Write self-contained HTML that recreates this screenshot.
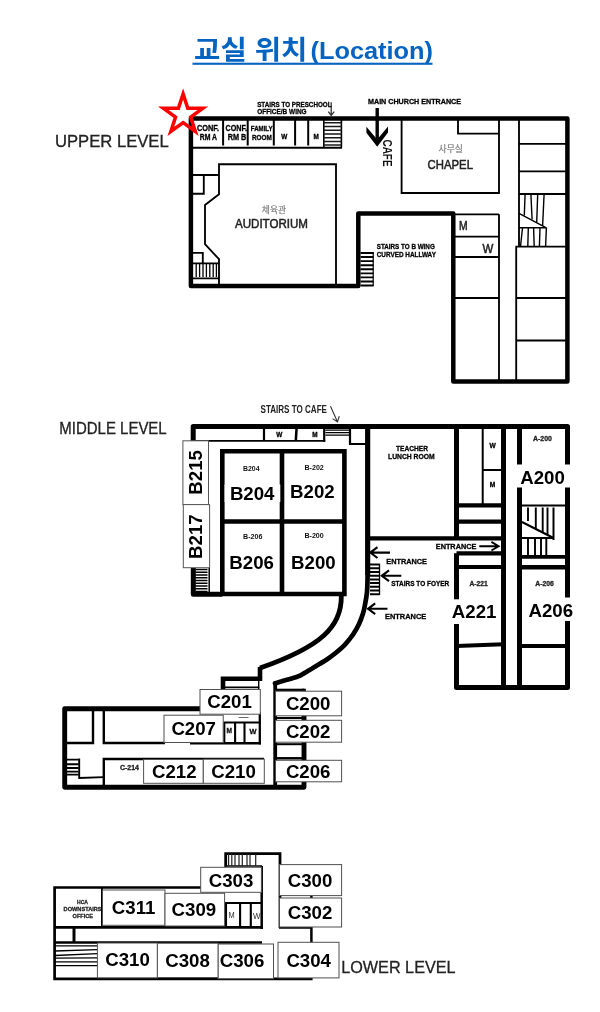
<!DOCTYPE html>
<html lang="ko"><head><meta charset="utf-8"><title>교실 위치(Location)</title>
<style>html,body{margin:0;padding:0;background:#fff}svg{display:block;will-change:transform}text{font-family:"Liberation Sans", "Noto Sans CJK KR", sans-serif;}</style></head><body>
<svg width="600" height="1012" viewBox="0 0 600 1012">
<rect width="600" height="1012" fill="#fff"/>
<text y="58.5" font-weight="bold" fill="#0563c1"><tspan x="194.1" font-size="26.67" textLength="113.2" lengthAdjust="spacingAndGlyphs">교실 위치</tspan><tspan x="310.5" font-size="24" textLength="122.5" lengthAdjust="spacingAndGlyphs">(Location)</tspan></text>
<rect x="192.50" y="62.70" width="240.00" height="2.10" fill="#0563c1" stroke="none" stroke-width="1"/>
<g id="upper">
<line x1="191.00" y1="147.80" x2="342.00" y2="147.80" stroke="#000" stroke-width="2" stroke-linecap="butt"/>
<line x1="223.10" y1="119.00" x2="223.10" y2="145.50" stroke="#000" stroke-width="2" stroke-linecap="butt"/>
<line x1="247.70" y1="119.00" x2="247.70" y2="145.50" stroke="#000" stroke-width="2" stroke-linecap="butt"/>
<line x1="273.80" y1="119.00" x2="273.80" y2="145.50" stroke="#000" stroke-width="2" stroke-linecap="butt"/>
<line x1="295.10" y1="119.00" x2="295.10" y2="145.50" stroke="#000" stroke-width="2" stroke-linecap="butt"/>
<line x1="308.20" y1="119.00" x2="308.20" y2="145.50" stroke="#000" stroke-width="2" stroke-linecap="butt"/>
<path d="M323.8,119V147.6M341.4,119V147.6" fill="none" stroke="#000" stroke-width="1.6" stroke-linejoin="miter" stroke-linecap="butt"/>
<path d="M323.70,122.80H341.50M323.70,126.52H341.50M323.70,130.24H341.50M323.70,133.96H341.50M323.70,137.68H341.50M323.70,141.40H341.50M323.70,145.12H341.50" fill="none" stroke="#1a1a1a" stroke-width="1.5" stroke-linejoin="miter" stroke-linecap="butt"/>
<path d="M219,285V259.2L205,244.2V205L219,194.2V164.2H336V285" fill="none" stroke="#000" stroke-width="1.85" stroke-linejoin="miter" stroke-linecap="butt"/>
<path d="M191,175H219M203.8,175V193.7H191" fill="none" stroke="#000" stroke-width="1.85" stroke-linejoin="miter" stroke-linecap="butt"/>
<path d="M191,252.8H202.8V263.3" fill="none" stroke="#000" stroke-width="1.85" stroke-linejoin="miter" stroke-linecap="butt"/>
<path d="M191,263.3H219M191,278.3H219" fill="none" stroke="#000" stroke-width="1.85" stroke-linejoin="miter" stroke-linecap="butt"/>
<path d="M196.20,263.30V277.00M199.60,263.30V277.00M203.00,263.30V277.00M206.40,263.30V277.00M209.80,263.30V277.00M213.20,263.30V277.00M216.40,263.30V277.00" fill="none" stroke="#000" stroke-width="1.3" stroke-linejoin="miter" stroke-linecap="butt"/>
<path d="M401.6,119V193H499V119" fill="none" stroke="#000" stroke-width="1.85" stroke-linejoin="miter" stroke-linecap="butt"/>
<path d="M458,119V133.6H499" fill="none" stroke="#000" stroke-width="1.85" stroke-linejoin="miter" stroke-linecap="butt"/>
<path d="M499,214.3V381" fill="none" stroke="#000" stroke-width="1.85" stroke-linejoin="miter" stroke-linecap="butt"/>
<line x1="453.00" y1="214.30" x2="499.00" y2="214.30" stroke="#000" stroke-width="1.85" stroke-linecap="butt"/>
<line x1="453.00" y1="236.60" x2="499.00" y2="236.60" stroke="#000" stroke-width="1.85" stroke-linecap="butt"/>
<line x1="453.00" y1="257.00" x2="499.00" y2="257.00" stroke="#000" stroke-width="1.85" stroke-linecap="butt"/>
<line x1="453.00" y1="298.00" x2="499.00" y2="298.00" stroke="#000" stroke-width="1.85" stroke-linecap="butt"/>
<path d="M519,119V246.5" fill="none" stroke="#000" stroke-width="1.85" stroke-linejoin="miter" stroke-linecap="butt"/>
<line x1="519.00" y1="143.80" x2="567.00" y2="143.80" stroke="#000" stroke-width="1.85" stroke-linecap="butt"/>
<line x1="519.00" y1="171.30" x2="567.00" y2="171.30" stroke="#000" stroke-width="1.85" stroke-linecap="butt"/>
<line x1="519.00" y1="194.00" x2="567.00" y2="194.00" stroke="#000" stroke-width="1.85" stroke-linecap="butt"/>
<path d="M516.2,246.6V381M515.4,246.6H567M516.2,298H567M516.2,340.5H567" fill="none" stroke="#000" stroke-width="1.85" stroke-linejoin="miter" stroke-linecap="butt"/>
<path d="M519,213.3L546.4,227.8H519" fill="none" stroke="#000" stroke-width="1.4" stroke-linejoin="miter" stroke-linecap="butt"/>
<path d="M544.1,194L542.6,226.1M546.4,227.8L545.6,246.5" fill="none" stroke="#000" stroke-width="1.4" stroke-linejoin="miter" stroke-linecap="butt"/>
<path d="M525.1,194L524.3,215.5M530.9,194L532.1,219.5M537.7,194L536.7,222.5" fill="none" stroke="#000" stroke-width="1.4" stroke-linejoin="miter" stroke-linecap="butt"/>
<path d="M522.5,228L520.5,246.5M528.3,228L527.8,246.5M533.6,228L534.2,246.5M540,228L539.4,246.5" fill="none" stroke="#000" stroke-width="1.4" stroke-linejoin="miter" stroke-linecap="butt"/>
<path d="M360.50,253.00H373.50M360.50,257.07H373.50M360.50,261.14H373.50M360.50,265.21H373.50M360.50,269.28H373.50M360.50,273.35H373.50M360.50,277.42H373.50M360.50,281.49H373.50M360.50,285.56H373.50" fill="none" stroke="#000" stroke-width="1.9" stroke-linejoin="miter" stroke-linecap="butt"/>
<line x1="373.20" y1="252.00" x2="373.20" y2="286.00" stroke="#000" stroke-width="1.2" stroke-linecap="butt"/>
<path d="M190.9,118.6H567.4V381.5H453.3V213.5H358.3V286H190.9Z" fill="none" stroke="#000" stroke-width="4.5" stroke-linejoin="round" stroke-linecap="butt"/>
<line x1="377.20" y1="108.00" x2="377.20" y2="141.00" stroke="#000" stroke-width="3.4" stroke-linecap="butt"/>
<polygon points="366.4,126.8 377.2,139.6 388,126.6 388,132.6 377.2,146.7 366.4,132.8" fill="#000"/>
<path d="M331.2,102.3V115.3M328.3,111.6L331.2,115.4L334.2,111.6" fill="none" stroke="#333" stroke-width="1.3" stroke-linejoin="miter" stroke-linecap="butt"/>
<text x="55.00" y="146.97" font-size="16.4" font-weight="normal" fill="#222" textLength="113.70" lengthAdjust="spacingAndGlyphs" stroke="#222" stroke-width="0.3">UPPER LEVEL</text>
<text x="257.20" y="106.66" font-size="7.7" font-weight="bold" fill="#000" textLength="74.30" lengthAdjust="spacingAndGlyphs" stroke="#000" stroke-width="0.3">STAIRS TO PRESCHOOL</text>
<text x="257.20" y="114.26" font-size="7.7" font-weight="bold" fill="#000" textLength="49.40" lengthAdjust="spacingAndGlyphs" stroke="#000" stroke-width="0.3">OFFICE/B WING</text>
<text x="368.00" y="104.26" font-size="7.7" font-weight="bold" fill="#000" textLength="93.00" lengthAdjust="spacingAndGlyphs" stroke="#000" stroke-width="0.3">MAIN CHURCH ENTRANCE</text>
<text x="197.00" y="131.07" font-size="8.3" font-weight="bold" fill="#000" textLength="22.00" lengthAdjust="spacingAndGlyphs" stroke="#000" stroke-width="0.3">CONF.</text>
<text x="199.70" y="140.47" font-size="8.3" font-weight="bold" fill="#000" textLength="17.30" lengthAdjust="spacingAndGlyphs" stroke="#000" stroke-width="0.3">RM A</text>
<text x="225.50" y="131.07" font-size="8.3" font-weight="bold" fill="#000" textLength="21.50" lengthAdjust="spacingAndGlyphs" stroke="#000" stroke-width="0.3">CONF.</text>
<text x="227.70" y="140.47" font-size="8.3" font-weight="bold" fill="#000" textLength="18.60" lengthAdjust="spacingAndGlyphs" stroke="#000" stroke-width="0.3">RM B</text>
<text x="250.80" y="131.31" font-size="7" font-weight="bold" fill="#000" textLength="21.80" lengthAdjust="spacingAndGlyphs" stroke="#000" stroke-width="0.3">FAMILY</text>
<text x="252.00" y="140.11" font-size="7" font-weight="bold" fill="#000" textLength="19.80" lengthAdjust="spacingAndGlyphs" stroke="#000" stroke-width="0.3">ROOM</text>
<text x="284.20" y="139.29" font-size="6.4" font-weight="bold" fill="#000" text-anchor="middle" stroke="#000" stroke-width="0.3">W</text>
<text x="316.20" y="139.29" font-size="6.4" font-weight="bold" fill="#000" text-anchor="middle" stroke="#000" stroke-width="0.3">M</text>
<text transform="translate(383,139.5) rotate(90)" x="0" y="0" font-size="13.7" font-weight="bold" textLength="27" lengthAdjust="spacingAndGlyphs" fill="#111">CAFE</text>
<text x="274" y="213.3" font-size="8.8" text-anchor="middle" fill="#808080" stroke="#808080" stroke-width="0.2">체육관</text>
<text x="235.00" y="228.40" font-size="12.3" font-weight="normal" fill="#222" textLength="73.00" lengthAdjust="spacingAndGlyphs" stroke="#222" stroke-width="0.5">AUDITORIUM</text>
<text x="450.7" y="152.2" font-size="8.8" text-anchor="middle" fill="#808080" stroke="#808080" stroke-width="0.2">사무실</text>
<text x="427.60" y="168.97" font-size="12.5" font-weight="normal" fill="#222" textLength="45.40" lengthAdjust="spacingAndGlyphs" stroke="#222" stroke-width="0.5">CHAPEL</text>
<text x="459.00" y="229.90" font-size="12" font-weight="normal" fill="#222" textLength="8.60" lengthAdjust="spacingAndGlyphs" stroke="#222" stroke-width="0.5">M</text>
<text x="482.50" y="252.50" font-size="12" font-weight="normal" fill="#222" textLength="10.80" lengthAdjust="spacingAndGlyphs" stroke="#222" stroke-width="0.5">W</text>
<text x="376.70" y="248.95" font-size="7.4" font-weight="bold" fill="#000" textLength="58.10" lengthAdjust="spacingAndGlyphs" stroke="#000" stroke-width="0.3">STAIRS TO B WING</text>
<text x="376.70" y="256.95" font-size="7.4" font-weight="bold" fill="#000" textLength="59.20" lengthAdjust="spacingAndGlyphs" stroke="#000" stroke-width="0.3">CURVED HALLWAY</text>
<polygon points="183.10,93.90 187.77,108.27 202.88,108.27 190.66,117.16 195.33,131.53 183.10,122.65 170.87,131.53 175.54,117.16 163.32,108.27 178.43,108.27" fill="none" stroke="#ff0000" stroke-width="3.5" stroke-linejoin="miter" stroke-miterlimit="10"/>
</g>
<g id="middle">
<line x1="195.00" y1="440.80" x2="325.20" y2="440.80" stroke="#000" stroke-width="1.8" stroke-linecap="butt"/>
<path d="M264,428V440.8M324.2,428V441.7" fill="none" stroke="#000" stroke-width="2.2" stroke-linejoin="miter" stroke-linecap="butt"/>
<path d="M296.6,428L295.8,440.8" fill="none" stroke="#000" stroke-width="2.6" stroke-linejoin="miter" stroke-linecap="butt"/>
<path d="M325.40,430.20H349.00M325.40,432.70H349.00M325.40,435.20H349.00" fill="none" stroke="#000" stroke-width="1.25" stroke-linejoin="miter" stroke-linecap="butt"/>
<path d="M350,428V444H366" fill="none" stroke="#000" stroke-width="2.2" stroke-linejoin="miter" stroke-linecap="butt"/>
<path d="M195.30,569.60H207.50M195.30,572.35H207.50M195.30,575.10H207.50M195.30,577.85H207.50M195.30,580.60H207.50M195.30,583.35H207.50M195.30,586.10H207.50M195.30,588.85H207.50M195.30,591.60H207.50" fill="none" stroke="#000" stroke-width="1.5" stroke-linejoin="miter" stroke-linecap="butt"/>
<line x1="209.20" y1="568.00" x2="209.20" y2="592.50" stroke="#000" stroke-width="1.5" stroke-linecap="butt"/>
<path d="M222.3,451.3H344.4V594H222.3Z M282,451.3V594 M222.3,521.5H344.4" fill="none" stroke="#000" stroke-width="4.6" stroke-linejoin="miter" stroke-linecap="butt"/>
<line x1="482.70" y1="428.00" x2="482.70" y2="505.00" stroke="#000" stroke-width="2" stroke-linecap="butt"/>
<line x1="482.70" y1="470.00" x2="503.50" y2="470.00" stroke="#000" stroke-width="2" stroke-linecap="butt"/>
<line x1="519.50" y1="505.40" x2="567.50" y2="505.40" stroke="#000" stroke-width="2" stroke-linecap="butt"/>
<path d="M522,522L553.5,538H522" fill="none" stroke="#000" stroke-width="2.0" stroke-linejoin="miter" stroke-linecap="butt"/>
<path d="M553.5,507.5V540" fill="none" stroke="#000" stroke-width="2.0" stroke-linejoin="miter" stroke-linecap="butt"/>
<path d="M528,507.5V521M535.8,507.5V529M542.7,507.5V532.5M547.5,507.5V535" fill="none" stroke="#000" stroke-width="1.9" stroke-linejoin="miter" stroke-linecap="butt"/>
<path d="M528,538V555.5M535,538V555.5M541,538V555.5M546.3,538V555.5" fill="none" stroke="#000" stroke-width="1.9" stroke-linejoin="miter" stroke-linecap="butt"/>
<path d="M370.00,564.60H379.30M370.00,568.30H379.30M370.00,572.00H379.30M370.00,575.70H379.30M370.00,579.40H379.30M370.00,583.10H379.30M370.00,586.80H379.30M370.00,590.50H379.30M370.00,594.20H379.30" fill="none" stroke="#000" stroke-width="2.0" stroke-linejoin="miter" stroke-linecap="butt"/>
<line x1="379.50" y1="563.70" x2="379.50" y2="595.00" stroke="#000" stroke-width="1.3" stroke-linecap="butt"/>
<path d="M193.2,441V426.5H567.5V687.5H456.5V553.3M456.5,538.4V426.5" fill="none" stroke="#000" stroke-width="5.0" stroke-linejoin="round" stroke-linecap="butt"/>
<path d="M193.3,568V594.3H222.3" fill="none" stroke="#000" stroke-width="5.0" stroke-linejoin="round" stroke-linecap="butt"/>
<path d="M503.5,426.7V687.5M519.5,426.7V687.5" fill="none" stroke="#000" stroke-width="5.0" stroke-linejoin="miter" stroke-linecap="butt"/>
<line x1="456.50" y1="505.40" x2="503.50" y2="505.40" stroke="#000" stroke-width="4.2" stroke-linecap="butt"/>
<line x1="456.50" y1="521.70" x2="503.50" y2="521.70" stroke="#000" stroke-width="4.2" stroke-linecap="butt"/>
<line x1="456.50" y1="553.30" x2="503.50" y2="553.30" stroke="#000" stroke-width="4.2" stroke-linecap="butt"/>
<line x1="456.50" y1="567.00" x2="503.50" y2="567.00" stroke="#000" stroke-width="4.2" stroke-linecap="butt"/>
<line x1="367.70" y1="538.40" x2="503.50" y2="538.40" stroke="#000" stroke-width="4.2" stroke-linecap="butt"/>
<line x1="519.50" y1="556.90" x2="567.50" y2="556.90" stroke="#000" stroke-width="3.6" stroke-linecap="butt"/>
<line x1="519.50" y1="567.20" x2="567.50" y2="567.20" stroke="#000" stroke-width="4.4" stroke-linecap="butt"/>
<path d="M456.5,646L503.5,644.3" fill="none" stroke="#000" stroke-width="4" stroke-linejoin="miter" stroke-linecap="butt"/>
<line x1="519.50" y1="646.00" x2="567.50" y2="646.00" stroke="#000" stroke-width="4" stroke-linecap="butt"/>
<line x1="367.70" y1="426.50" x2="367.70" y2="575.00" stroke="#000" stroke-width="5.0" stroke-linecap="butt"/>
<path d="M367.7,426.5V570C367.7,571.7 367.6,576.3 367.5,580C367.4,583.7 367.4,588.2 367,592C366.6,595.8 366.0,599.4 365.3,603C364.6,606.6 364.1,610.0 363,613.5C361.9,617.0 360.6,620.5 359,624C357.4,627.5 355.5,630.9 353.2,634.3C350.9,637.7 348.1,641.2 345.2,644.3C342.3,647.4 338.6,650.5 335.6,653C332.6,655.5 330.0,657.4 327.2,659.3C324.4,661.2 321.6,662.7 319,664.3C316.4,665.9 314.1,667.3 311.7,668.7C309.3,670.1 306.8,671.6 304.7,672.9C302.6,674.1 301.1,675.2 298.8,676.2C296.5,677.2 293.4,677.9 290.7,678.7C288.0,679.5 285.1,680.2 282.5,681C279.9,681.8 276.2,682.9 275,683.3" fill="none" stroke="#000" stroke-width="4.7" stroke-linejoin="miter" stroke-linecap="round"/>
<path d="M341.3,596C341.8,626.6 321.2,646.7 260,668" fill="none" stroke="#000" stroke-width="4.8" stroke-linejoin="miter" stroke-linecap="butt"/>
</g>
<g id="cwing">
<path d="M93,708.7V743H65M103.8,708.7V743H165" fill="none" stroke="#000" stroke-width="2.4" stroke-linejoin="miter" stroke-linecap="butt"/>
<path d="M103.8,787V759H264" fill="none" stroke="#000" stroke-width="2.4" stroke-linejoin="miter" stroke-linecap="butt"/>
<path d="M66.80,759.60H78.60M66.80,764.20H78.60M66.80,768.00H78.60M66.80,771.60H78.60M66.80,774.60H78.60" fill="none" stroke="#000" stroke-width="1.9" stroke-linejoin="miter" stroke-linecap="butt"/>
<path d="M79.2,758.5V778L103.8,777.1" fill="none" stroke="#000" stroke-width="1.9" stroke-linejoin="miter" stroke-linecap="butt"/>
<line x1="223.50" y1="722.50" x2="260.00" y2="722.50" stroke="#000" stroke-width="2" stroke-linecap="butt"/>
<path d="M224.3,722.5V743M235.1,722.5V743M244.5,722.5V743" fill="none" stroke="#000" stroke-width="2.1" stroke-linejoin="miter" stroke-linecap="butt"/>
<line x1="259.80" y1="712.00" x2="259.80" y2="744.40" stroke="#000" stroke-width="2.3" stroke-linecap="butt"/>
<line x1="190.00" y1="743.20" x2="261.00" y2="743.20" stroke="#000" stroke-width="2.5" stroke-linecap="butt"/>
<line x1="238.50" y1="717.50" x2="248.50" y2="717.50" stroke="#444" stroke-width="0.8" stroke-linecap="butt"/>
<line x1="225.00" y1="687.40" x2="259.30" y2="687.40" stroke="#000" stroke-width="1.6" stroke-linecap="butt"/>
<line x1="258.70" y1="680.00" x2="258.70" y2="689.00" stroke="#000" stroke-width="1.4" stroke-linecap="butt"/>
<line x1="275.00" y1="718.00" x2="303.00" y2="718.00" stroke="#000" stroke-width="2" stroke-linecap="butt"/>
<line x1="275.00" y1="744.20" x2="303.00" y2="744.20" stroke="#000" stroke-width="2" stroke-linecap="butt"/>
<line x1="275.00" y1="758.30" x2="303.00" y2="758.30" stroke="#000" stroke-width="2.5" stroke-linecap="butt"/>
<path d="M200,708.7H64.7V787.2H304V700" fill="none" stroke="#000" stroke-width="4.9" stroke-linejoin="round" stroke-linecap="butt"/>
<line x1="274.70" y1="690.00" x2="304.00" y2="690.00" stroke="#000" stroke-width="2.6" stroke-linecap="butt"/>
<line x1="304.00" y1="688.70" x2="304.00" y2="700.00" stroke="#000" stroke-width="3.8" stroke-linecap="butt"/>
<path d="M275.2,683V787" fill="none" stroke="#000" stroke-width="3.8" stroke-linejoin="miter" stroke-linecap="butt"/>
<path d="M223,690V678.7H260V667" fill="none" stroke="#000" stroke-width="4.6" stroke-linejoin="miter" stroke-linecap="butt"/>
</g>
<g id="lower">
<path d="M226,887.5H54.6V978.8H312.6" fill="none" stroke="#000" stroke-width="2.7" stroke-linejoin="miter" stroke-linecap="butt"/>
<line x1="54.60" y1="927.40" x2="263.00" y2="927.40" stroke="#000" stroke-width="2.7" stroke-linecap="butt"/>
<line x1="279.00" y1="927.50" x2="311.30" y2="927.50" stroke="#000" stroke-width="2.7" stroke-linecap="butt"/>
<line x1="54.60" y1="942.50" x2="262.00" y2="942.50" stroke="#000" stroke-width="2.3" stroke-linecap="butt"/>
<line x1="74.00" y1="927.50" x2="74.00" y2="943.00" stroke="#000" stroke-width="3" stroke-linecap="butt"/>
<line x1="102.00" y1="887.50" x2="102.00" y2="927.50" stroke="#000" stroke-width="2" stroke-linecap="butt"/>
<path d="M55,945.8H97.4M55,951L97.4,949.7M55,955.5L97.4,953.7M55,958.2L97.4,957.8M55,961.8H97.4M55,965.7H97.4" fill="none" stroke="#000" stroke-width="1.3" stroke-linejoin="miter" stroke-linecap="butt"/>
<path d="M225.7,867V853.7H280V928" fill="none" stroke="#000" stroke-width="2.8" stroke-linejoin="miter" stroke-linecap="butt"/>
<line x1="225.70" y1="866.00" x2="262.00" y2="866.00" stroke="#000" stroke-width="1.4" stroke-linecap="butt"/>
<path d="M228.60,853.70V866.00M231.80,853.70V866.00M235.00,853.70V866.00M239.00,853.70V866.00M242.30,853.70V866.00M247.00,853.70V866.00M250.00,853.70V866.00M255.70,853.70V866.00" fill="none" stroke="#222" stroke-width="1.2" stroke-linejoin="miter" stroke-linecap="butt"/>
<line x1="225.00" y1="903.00" x2="262.00" y2="903.00" stroke="#000" stroke-width="2.2" stroke-linecap="butt"/>
<path d="M226,903V927.5M240.1,903V927.5M250.8,903V927.5" fill="none" stroke="#000" stroke-width="2.1" stroke-linejoin="miter" stroke-linecap="butt"/>
<line x1="261.70" y1="866.00" x2="261.70" y2="929.00" stroke="#000" stroke-width="2.5" stroke-linecap="butt"/>
<line x1="311.40" y1="893.00" x2="311.40" y2="945.00" stroke="#000" stroke-width="2.5" stroke-linecap="butt"/>
</g>
<g id="labels">
<rect x="182.90" y="440.80" width="25.60" height="63.80" fill="#fff" stroke="#555" stroke-width="1"/>
<rect x="183.30" y="504.60" width="26.30" height="63.10" fill="#fff" stroke="#555" stroke-width="1"/>
<text transform="translate(201.7,472.4) rotate(-90)" x="0" y="0" font-size="18.67" font-weight="bold" text-anchor="middle">B215</text>
<text transform="translate(202.2,536.6) rotate(-90)" x="0" y="0" font-size="18.67" font-weight="bold" text-anchor="middle">B217</text>
<rect x="224.60" y="484.50" width="55.70" height="17.50" fill="#fff" stroke="none" stroke-width="1"/>
<text x="252.20" y="500.48" font-size="18.67" font-weight="bold" fill="#000" text-anchor="middle">B204</text>
<text x="312.40" y="498.38" font-size="18.67" font-weight="bold" fill="#000" text-anchor="middle">B202</text>
<text x="251.60" y="568.68" font-size="18.67" font-weight="bold" fill="#000" text-anchor="middle">B206</text>
<text x="313.40" y="569.38" font-size="18.67" font-weight="bold" fill="#000" text-anchor="middle">B200</text>
<text x="243.00" y="470.73" font-size="6.8" font-weight="bold" fill="#111" textLength="16.50" lengthAdjust="spacingAndGlyphs" stroke="none">B204</text>
<text x="304.50" y="469.93" font-size="6.8" font-weight="bold" fill="#111" textLength="19.30" lengthAdjust="spacingAndGlyphs" stroke="none">B-202</text>
<text x="243.00" y="539.13" font-size="6.8" font-weight="bold" fill="#111" textLength="19.40" lengthAdjust="spacingAndGlyphs" stroke="none">B-206</text>
<text x="304.40" y="538.43" font-size="6.8" font-weight="bold" fill="#111" textLength="19.40" lengthAdjust="spacingAndGlyphs" stroke="none">B-200</text>
<rect x="516.30" y="464.50" width="53.70" height="23.00" fill="#fff" stroke="none" stroke-width="1"/>
<text x="542.50" y="484.18" font-size="18.67" font-weight="bold" fill="#000" text-anchor="middle">A200</text>
<rect x="450.00" y="599.30" width="51.00" height="24.70" fill="#fff" stroke="none" stroke-width="1"/>
<text x="474.10" y="617.68" font-size="18.67" font-weight="bold" fill="#000" text-anchor="middle">A221</text>
<rect x="525.00" y="597.50" width="47.50" height="23.50" fill="#fff" stroke="none" stroke-width="1"/>
<text x="550.80" y="616.68" font-size="18.67" font-weight="bold" fill="#000" text-anchor="middle">A206</text>
<text x="533.00" y="441.31" font-size="7" font-weight="bold" fill="#222" textLength="19.00" lengthAdjust="spacingAndGlyphs" stroke="#222" stroke-width="0.3">A-200</text>
<text x="469.50" y="586.31" font-size="7" font-weight="bold" fill="#222" textLength="18.20" lengthAdjust="spacingAndGlyphs" stroke="#222" stroke-width="0.3">A-221</text>
<text x="535.30" y="586.31" font-size="7" font-weight="bold" fill="#222" textLength="18.50" lengthAdjust="spacingAndGlyphs" stroke="#222" stroke-width="0.3">A-206</text>
<rect x="200.00" y="689.50" width="60.30" height="24.70" fill="#fff" stroke="#505050" stroke-width="1"/>
<text x="229.50" y="707.88" font-size="18.67" font-weight="bold" fill="#000" text-anchor="middle">C201</text>
<rect x="275.50" y="691.20" width="66.10" height="24.60" fill="#fff" stroke="#505050" stroke-width="1"/>
<text x="308.20" y="709.98" font-size="18.67" font-weight="bold" fill="#000" text-anchor="middle">C200</text>
<rect x="275.50" y="720.30" width="66.10" height="21.90" fill="#fff" stroke="#505050" stroke-width="1"/>
<text x="308.20" y="737.68" font-size="18.67" font-weight="bold" fill="#000" text-anchor="middle">C202</text>
<rect x="275.50" y="760.30" width="66.10" height="21.50" fill="#fff" stroke="#505050" stroke-width="1"/>
<text x="308.20" y="777.68" font-size="18.67" font-weight="bold" fill="#000" text-anchor="middle">C206</text>
<rect x="164.00" y="715.20" width="59.20" height="27.30" fill="#fff" stroke="#505050" stroke-width="1"/>
<text x="193.70" y="735.08" font-size="18.67" font-weight="bold" fill="#000" text-anchor="middle">C207</text>
<rect x="143.60" y="759.50" width="59.70" height="23.80" fill="#fff" stroke="#505050" stroke-width="1"/>
<text x="174.30" y="777.68" font-size="18.67" font-weight="bold" fill="#000" text-anchor="middle">C212</text>
<rect x="203.30" y="759.20" width="61.00" height="24.10" fill="#fff" stroke="#505050" stroke-width="1"/>
<text x="233.50" y="777.68" font-size="18.67" font-weight="bold" fill="#000" text-anchor="middle">C210</text>
<text x="120.00" y="769.56" font-size="6.6" font-weight="bold" fill="#222" textLength="19.00" lengthAdjust="spacingAndGlyphs" stroke="#222" stroke-width="0.3">C-214</text>
<text x="226.50" y="732.80" font-size="6.7" font-weight="bold" fill="#111" textLength="5.50" lengthAdjust="spacingAndGlyphs" stroke="#111" stroke-width="0.3">M</text>
<text x="249.50" y="733.78" font-size="7.2" font-weight="bold" fill="#111" textLength="7.00" lengthAdjust="spacingAndGlyphs" stroke="#111" stroke-width="0.3">W</text>
<rect x="200.70" y="867.30" width="60.70" height="25.00" fill="#fff" stroke="#505050" stroke-width="1"/>
<text x="231.00" y="886.68" font-size="18.67" font-weight="bold" fill="#000" text-anchor="middle">C303</text>
<rect x="279.50" y="864.60" width="62.10" height="31.00" fill="#fff" stroke="#505050" stroke-width="1"/>
<text x="310.00" y="887.18" font-size="18.67" font-weight="bold" fill="#000" text-anchor="middle">C300</text>
<rect x="279.50" y="898.00" width="62.10" height="29.00" fill="#fff" stroke="#505050" stroke-width="1"/>
<text x="310.00" y="919.18" font-size="18.67" font-weight="bold" fill="#000" text-anchor="middle">C302</text>
<rect x="278.00" y="942.30" width="61.00" height="35.60" fill="#fff" stroke="#505050" stroke-width="1"/>
<text x="308.70" y="966.68" font-size="18.67" font-weight="bold" fill="#000" text-anchor="middle">C304</text>
<rect x="218.00" y="944.00" width="55.50" height="34.70" fill="#fff" stroke="#505050" stroke-width="1"/>
<text x="242.00" y="967.18" font-size="18.67" font-weight="bold" fill="#000" text-anchor="middle">C306</text>
<rect x="157.30" y="943.20" width="60.70" height="34.30" fill="#fff" stroke="#505050" stroke-width="1"/>
<text x="187.50" y="966.68" font-size="18.67" font-weight="bold" fill="#000" text-anchor="middle">C308</text>
<rect x="97.40" y="943.00" width="59.90" height="34.80" fill="#fff" stroke="#505050" stroke-width="1"/>
<text x="127.50" y="966.28" font-size="18.67" font-weight="bold" fill="#000" text-anchor="middle">C310</text>
<rect x="102.50" y="890.00" width="62.50" height="35.30" fill="#fff" stroke="#505050" stroke-width="1"/>
<text x="133.60" y="914.18" font-size="18.67" font-weight="bold" fill="#000" text-anchor="middle">C311</text>
<rect x="165.00" y="893.30" width="59.60" height="32.70" fill="#fff" stroke="#505050" stroke-width="1"/>
<text x="193.90" y="915.98" font-size="18.67" font-weight="bold" fill="#000" text-anchor="middle">C309</text>
<text x="228.40" y="918.01" font-size="9.8" font-weight="normal" fill="#333" textLength="6.20" lengthAdjust="spacingAndGlyphs">M</text>
<text x="253.00" y="918.51" font-size="9.8" font-weight="normal" fill="#333" textLength="7.50" lengthAdjust="spacingAndGlyphs">W</text>
<text x="77.00" y="903.98" font-size="6.1" font-weight="bold" fill="#222" textLength="11.00" lengthAdjust="spacingAndGlyphs" stroke="#222" stroke-width="0.3">HCA</text>
<text x="63.60" y="911.18" font-size="6.1" font-weight="bold" fill="#222" textLength="38.00" lengthAdjust="spacingAndGlyphs" stroke="#222" stroke-width="0.3">DOWNSTAIRS</text>
<text x="72.60" y="918.18" font-size="6.1" font-weight="bold" fill="#222" textLength="20.40" lengthAdjust="spacingAndGlyphs" stroke="#222" stroke-width="0.3">OFFICE</text>
</g>
<g id="notes">
<text x="59.30" y="434.17" font-size="16.4" font-weight="normal" fill="#222" textLength="107.40" lengthAdjust="spacingAndGlyphs" stroke="#222" stroke-width="0.3">MIDDLE LEVEL</text>
<text x="341.20" y="973.44" font-size="16.6" font-weight="normal" fill="#222" textLength="114.40" lengthAdjust="spacingAndGlyphs" stroke="#222" stroke-width="0.3">LOWER LEVEL</text>
<text x="260.50" y="412.52" font-size="10.4" font-weight="bold" fill="#222" textLength="66.50" lengthAdjust="spacingAndGlyphs">STAIRS TO CAFE</text>
<path d="M330.5,406.3L337.4,421.8M332.5,418.6L337.5,422L339.3,416.2" fill="none" stroke="#333" stroke-width="1.1" stroke-linejoin="miter" stroke-linecap="butt"/>
<text x="279.30" y="436.59" font-size="6.4" font-weight="bold" fill="#000" text-anchor="middle" stroke="#000" stroke-width="0.3">W</text>
<text x="315.00" y="436.59" font-size="6.4" font-weight="bold" fill="#000" text-anchor="middle" stroke="#000" stroke-width="0.3">M</text>
<text x="396.00" y="451.15" font-size="7.4" font-weight="bold" fill="#000" textLength="32.00" lengthAdjust="spacingAndGlyphs" stroke="#000" stroke-width="0.3">TEACHER</text>
<text x="388.00" y="459.45" font-size="7.4" font-weight="bold" fill="#000" textLength="46.70" lengthAdjust="spacingAndGlyphs" stroke="#000" stroke-width="0.3">LUNCH ROOM</text>
<text x="492.50" y="447.66" font-size="6.6" font-weight="bold" fill="#000" text-anchor="middle" stroke="#000" stroke-width="0.3">W</text>
<text x="492.50" y="487.16" font-size="6.6" font-weight="bold" fill="#000" text-anchor="middle" stroke="#000" stroke-width="0.3">M</text>
<text x="435.80" y="549.29" font-size="7.8" font-weight="bold" fill="#000" textLength="40.50" lengthAdjust="spacingAndGlyphs" stroke="#000" stroke-width="0.3">ENTRANCE</text>
<path d="M479.3,546.2H497M491.4,541.9L498.6,546.2L491.4,550.5" fill="none" stroke="#000" stroke-width="1.9" stroke-linejoin="miter" stroke-linecap="butt"/>
<path d="M390.00,552.60H370.30M377.50,547.20L370.30,552.60L377.50,558.00" fill="none" stroke="#000" stroke-width="2.1" stroke-linejoin="miter" stroke-linecap="butt"/>
<text x="386.30" y="563.76" font-size="8" font-weight="bold" fill="#000" textLength="40.70" lengthAdjust="spacingAndGlyphs" stroke="#000" stroke-width="0.3">ENTRANCE</text>
<path d="M401.30,575.80H381.80M389.00,570.40L381.80,575.80L389.00,581.20" fill="none" stroke="#000" stroke-width="2.1" stroke-linejoin="miter" stroke-linecap="butt"/>
<text x="391.30" y="586.22" font-size="7.6" font-weight="bold" fill="#000" textLength="58.00" lengthAdjust="spacingAndGlyphs" stroke="#000" stroke-width="0.3">STAIRS TO FOYER</text>
<path d="M387.50,608.80H368.00M375.20,603.40L368.00,608.80L375.20,614.20" fill="none" stroke="#000" stroke-width="2.1" stroke-linejoin="miter" stroke-linecap="butt"/>
<text x="385.00" y="619.46" font-size="8" font-weight="bold" fill="#000" textLength="41.30" lengthAdjust="spacingAndGlyphs" stroke="#000" stroke-width="0.3">ENTRANCE</text>
</g>
</svg></body></html>
